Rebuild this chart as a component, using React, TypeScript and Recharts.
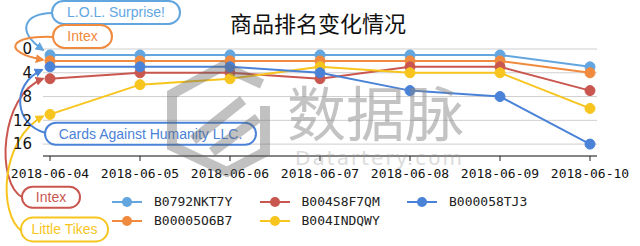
import React from "react";
import { LineChart, Line, XAxis, YAxis, CartesianGrid, Legend, ReferenceDot } from "recharts";

const dates = ["2018-06-04", "2018-06-05", "2018-06-06", "2018-06-07", "2018-06-08", "2018-06-09", "2018-06-10"];
const seriesNames = ["B0792NKT7Y", "B00005O6B7", "B004S8F7QM", "B004INDQWY", "B000058TJ3"];
const rankB0792NKT7Y = [1, 1, 1, 1, 1, 1, 3];
const rankB00005O6B7 = [2, 2, 2, 2, 2, 2, 4];
const rankB004S8F7QM = [5, 4, 4, 5, 3, 3, 7];
const rankB004INDQWY = [11, 6, 5, 3, 4, 4, 10];
const rankB000058TJ3 = [3, 3, 3, 4, 7, 8, 16];
const brandNames = ["L.O.L. Surprise!", "Intex", "Intex", "Little Tikes", "Cards Against Humanity LLC."];
const yTicks = [0, 4, 8, 12, 16];

const colors = ["#63a6df", "#f08a3e", "#c9574f", "#f7c51e", "#4a82d8"];
const allRanks = [rankB0792NKT7Y, rankB00005O6B7, rankB004S8F7QM, rankB004INDQWY, rankB000058TJ3];

const data = dates.map((d, i) => {
  const row: any = { date: d };
  seriesNames.forEach((s, k) => { row[s] = allRanks[k][i]; });
  return row;
});

// callout geometry relative to the first point of each series
const calloutShapes = [
  { box: [2, -54, 128, 23], path: "M{2},{-42} C{-25},{-41} {-35},{-25} {-7},{-5}" },
  { box: [3, -36, 59, 23], path: "M{3},{-24} C{-40},{-26} {-50},{-9} {-7},{-1}" },
  { box: [-28, 108, 58, 21], path: "M{-27},{119} C{-55},{105} {-50},{16} {-7},{0}" },
  { box: [-29, 103, 87, 24], path: "M{-28},{117} C{-52},{100} {-50},{25} {-7},{2}" },
  { box: [-5, 56, 211, 22], path: "M{-5},{66} C{-35},{58} {-40},{18} {-8},{3}" },
];

const Callout = ({ cx, cy, idx }: any) => {
  if (cx == null || cy == null) return null;
  const c = colors[idx];
  const s = calloutShapes[idx];
  const d = s.path.replace(/\{(-?\d+)\},\{(-?\d+)\}/g, (_m, a, b) => `${cx + Number(a)},${cy + Number(b)}`);
  const [bx, by, bw, bh] = s.box;
  const id = `arrow-${idx}`;
  return (
    <g>
      <defs>
        <marker id={id} viewBox="0 0 10 10" refX="8" refY="5" markerWidth="9" markerHeight="9" markerUnits="userSpaceOnUse" orient="auto">
          <path d="M0,0 L10,5 L0,10 z" fill={c} />
        </marker>
      </defs>
      <path d={d} fill="none" stroke={c} strokeWidth={2} markerEnd={`url(#${id})`} />
      <rect x={cx + bx} y={cy + by} width={bw} height={bh} rx={bh / 2} fill="#fff" stroke={c} strokeWidth={2} />
      <text x={cx + bx + bw / 2} y={cy + by + bh / 2 + 5} textAnchor="middle" fill={c} fontSize={14} fontFamily="Liberation Sans, Arial, sans-serif">
        {brandNames[idx]}
      </text>
    </g>
  );
};

const legendCols = [[0, 1], [2, 3], [4]];

const LegendBox = () => (
  <div style={{ position: "relative", width: 640, height: 60 }}>
    {legendCols.map((col, ci) =>
      col.map((k, ri) => (
        <div key={k} style={{ position: "absolute", left: 112 + ci * 147.5, top: 9 + ri * 19, display: "flex", alignItems: "center", height: 14 }}>
          <svg width={30} height={12}>
            <line x1={0} y1={6} x2={30} y2={6} stroke={colors[k]} strokeWidth={2} />
            <circle cx={15} cy={6} r={5} fill={colors[k]} />
          </svg>
          <span style={{ marginLeft: 12, fontFamily: "DejaVu Sans Mono, monospace", fontSize: 13, color: "#222", lineHeight: "14px" }}>{seriesNames[k]}</span>
        </div>
      ))
    )}
  </div>
);

export default function App() {
  return (
    <div style={{ position: "absolute", left: 0, top: 0, width: 640, height: 246, background: "#fff", overflow: "hidden" }}>
      <div style={{ position: "absolute", left: 0, top: 9, width: 636, textAlign: "center", fontFamily: "Noto Sans CJK SC, sans-serif", fontSize: 22, lineHeight: "26px", color: "#111" }}>
        商品排名变化情况
      </div>
      <LineChart width={640} height={246} data={data} margin={{ top: 49, right: 43, bottom: 0, left: 0 }}>
        <CartesianGrid horizontal vertical={false} stroke="#cfcfcf" />
        <XAxis dataKey="date" padding={{ left: 7, right: 7 }} height={30} tickSize={5} tickMargin={8} stroke="#222" interval={0}
          tick={{ fontSize: 13, fill: "#111", fontFamily: "DejaVu Sans Mono, monospace" }} />
        <YAxis reversed domain={[0, 18]} ticks={yTicks} width={43} axisLine={false} tickLine={false} tickMargin={5}
          tick={{ fontSize: 15, fill: "#111", fontFamily: "DejaVu Sans, sans-serif" }} />
        <Legend verticalAlign="bottom" content={() => <LegendBox />} wrapperStyle={{ height: 60 }} />
        {seriesNames.map((s, k) => (
          <Line key={s} dataKey={s} type="linear" stroke={colors[k]} strokeWidth={2}
            dot={{ r: 5, fill: colors[k], stroke: colors[k], strokeWidth: 1 }} isAnimationActive={false} />
        ))}
        {seriesNames.map((s, k) => (
          <ReferenceDot key={"c" + s} x={dates[0]} y={allRanks[k][0]} r={0}
            shape={(p: any) => <Callout cx={p.cx} cy={p.cy} idx={k} />} />
        ))}
      </LineChart>
      {/* watermark overlay */}
      <svg width={640} height={246} style={{ position: "absolute", left: 0, top: 0, pointerEvents: "none" }}>
        <g opacity={0.4} fill="none" stroke="#666" strokeWidth={10} strokeLinejoin="miter">
          <polyline points="262,84 223,66 172,94 172,146 227,172 265,152 265,106" />
          <polyline points="193,140 243,100" />
          <polyline points="212,152 258,118" />
        </g>
        <text x={287} y={136} fontSize={59} fill="#888" opacity={0.5} fontFamily="Noto Sans CJK SC, sans-serif">数据脉</text>
        <text x={295} y={165} fontSize={20} fill="#999" opacity={0.35} fontFamily="DejaVu Sans, sans-serif" textLength={167}>Datartery.com</text>
      </svg>
    </div>
  );
}
